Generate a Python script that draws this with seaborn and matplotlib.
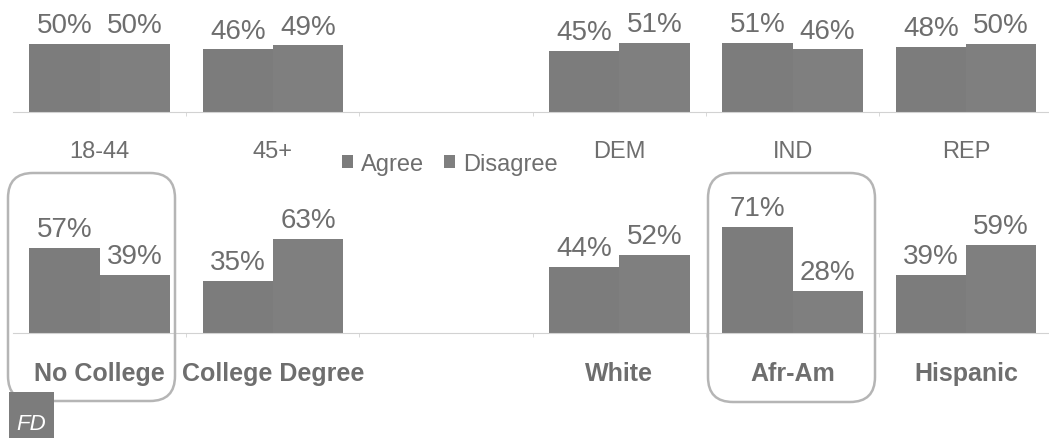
import matplotlib
matplotlib.use("Agg")
import matplotlib.pyplot as plt
import pandas as pd
import seaborn as sns
from matplotlib.patches import FancyBboxPatch, Rectangle

sns.set_theme(style="white")
plt.rcParams["font.family"] = ["Liberation Sans", "DejaVu Sans"]

W, H = 1049, 439
series = ["Agree", "Disagree"]
top_categories = ["18-44", "45+", " ", "DEM", "IND", "REP"]
top_agree = [50, 46, None, 45, 51, 48]
top_disagree = [50, 49, None, 51, 46, 50]
bottom_categories = ["No College", "College Degree", " ", "White", "Afr-Am", "Hispanic"]
bottom_agree = [57, 35, None, 44, 71, 39]
bottom_disagree = [39, 63, None, 52, 28, 59]

GREY = "#7c7c7c"
GREY2 = "#7f7f7f"
TEXT = "#6e6e6e"
LINE = "#d2d2d2"


def tidy(cats, a, d):
    rows = []
    for c, x, y in zip(cats, a, d):
        if x is not None:
            rows.append((c, series[0], x))
            rows.append((c, series[1], y))
    return pd.DataFrame(rows, columns=["cat", "series", "val"])


def px_axes(fig, l, t, r, b):
    return fig.add_axes([l / W, 1 - b / H, (r - l) / W, (b - t) / H])


def draw(ax, cats, a, d, ymax, label_kw, pad):
    sns.barplot(data=tidy(cats, a, d), x="cat", y="val", hue="series", order=cats,
                hue_order=series, palette=[GREY, GREY2], saturation=1,
                width=0.81, gap=0, dodge=True, ax=ax, legend=True, linewidth=0)
    ax.set_xlim(-0.5, 5.48)
    ax.set_ylim(0, ymax)
    ax.set_xlabel("")
    ax.set_ylabel("")
    ax.set_yticks([])
    ax.patch.set_alpha(0)
    for s in ["top", "left", "right"]:
        ax.spines[s].set_visible(False)
    ax.spines["bottom"].set_color(LINE)
    ax.spines["bottom"].set_linewidth(0.8)
    ax.tick_params(axis="x", which="major", length=0, pad=pad)
    ax.set_xticks(range(len(cats)))
    ax.set_xticklabels(cats, color=TEXT, **label_kw)
    ax.set_xticks([0.5, 1.5, 2.5, 3.5, 4.5], minor=True)
    ax.tick_params(axis="x", which="minor", length=3, color=LINE, width=0.6, bottom=True)
    for cont in ax.containers:
        ax.bar_label(cont, fmt="%d%%", padding=4, color=TEXT, fontsize=20)


fig = plt.figure(figsize=(W / 100, H / 100), dpi=100, facecolor="white")

ax1 = px_axes(fig, 13, 0, W, 113)
draw(ax1, top_categories, top_agree, top_disagree, 83, {"fontsize": 17}, 20)
ax2 = px_axes(fig, 13, 190, W, 334)
draw(ax2, bottom_categories, bottom_agree, bottom_disagree, 96,
     {"fontsize": 18, "fontweight": "bold"}, 20)

handles, labels = ax1.get_legend_handles_labels()
ax1.get_legend().remove()
ax2.get_legend().remove()
fig.legend(handles, labels, loc="center", bbox_to_anchor=(450 / W, 1 - 165 / H), ncol=2,
           frameon=False, fontsize=17, labelcolor=TEXT, handlelength=0.45, handleheight=0.45,
           handletextpad=0.35, columnspacing=0.85, borderpad=0)

for l, t, r, b in [(8, 174, 175, 402), (708, 174, 875, 403)]:
    fig.add_artist(FancyBboxPatch((l / 100, (H - b) / 100), (r - l) / 100, (b - t) / 100,
                                  boxstyle="round,pad=0,rounding_size=0.25",
                                  transform=fig.dpi_scale_trans, fc="none", ec="#b5b5b5", lw=1.8))

fig.add_artist(Rectangle((9 / W, 0), 45 / W, 46 / H, transform=fig.transFigure, fc=GREY, ec="none"))
fig.text(31 / W, 1 - 425 / H, "FD", color="white", fontsize=16, style="italic", ha="center", va="center")

fig.savefig("out.png", dpi=100, facecolor="white")
